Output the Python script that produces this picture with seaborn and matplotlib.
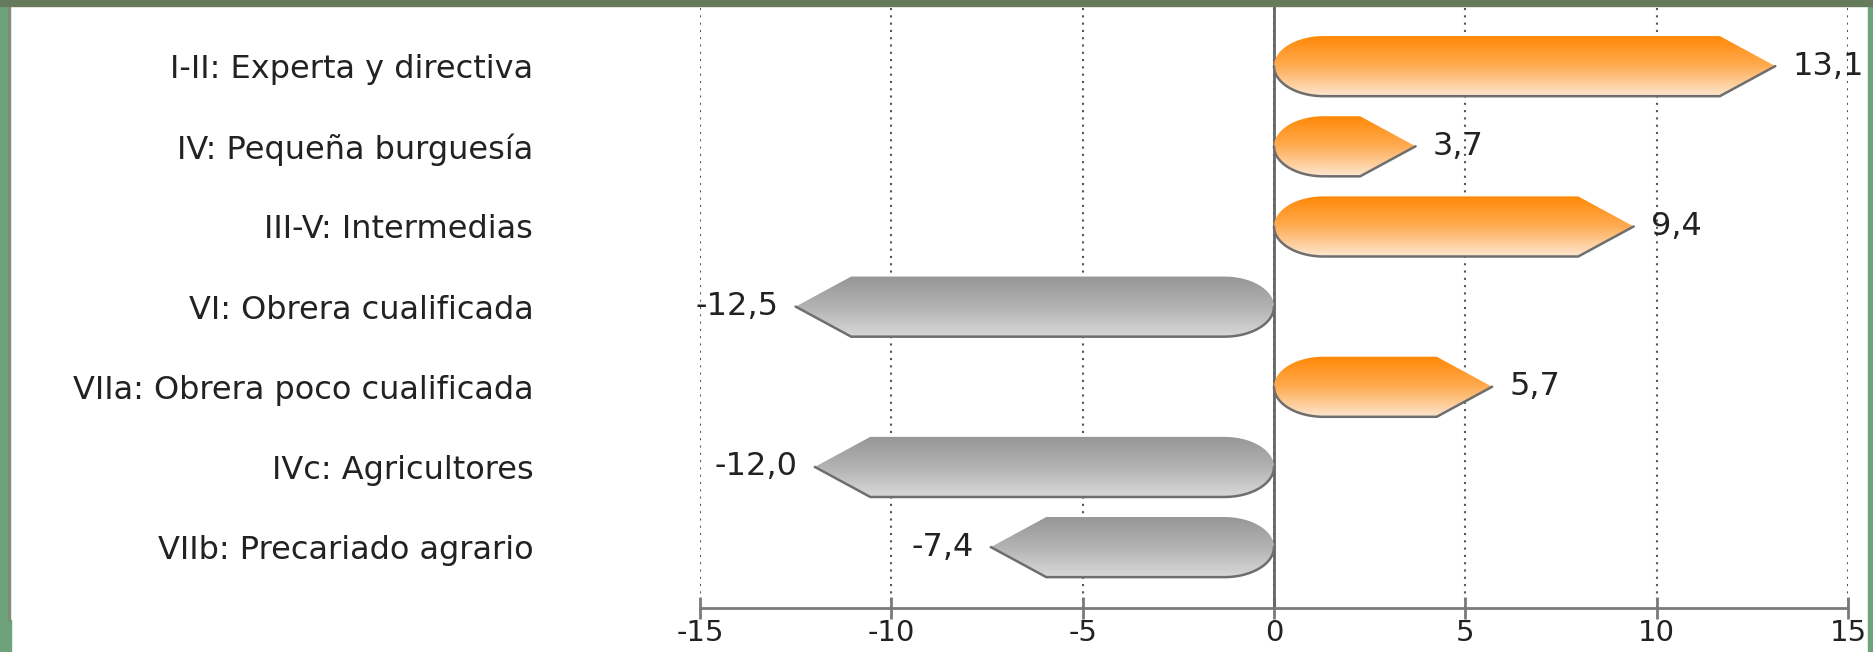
import numpy as np
import pandas as pd
import seaborn as sns
import matplotlib.pyplot as plt
from matplotlib.patches import Polygon, Rectangle
from matplotlib.colors import LinearSegmentedColormap

# === datos ===
categorias = [
    "I-II: Experta y directiva",
    "IV: Pequeña burguesía",
    "III-V: Intermedias",
    "VI: Obrera cualificada",
    "VIIa: Obrera poco cualificada",
    "IVc: Agricultores",
    "VIIb: Precariado agrario",
]
valores = [13.1, 3.7, 9.4, -12.5, 5.7, -12.0, -7.4]
etiquetas = [f"{v:.1f}".replace(".", ",") for v in valores]
ticks_x = [-15, -10, -5, 0, 5, 10, 15]

df = pd.DataFrame({"clase": categorias, "valor": valores})

# === estilo ===
sns.set_theme(style="white")
plt.rcParams["font.family"] = ["DejaVu Sans"]
TXT = "#222222"
FS = 23

W, H = 1873, 652
fig = plt.figure(figsize=(W / 100, H / 100), dpi=100)
fig.patch.set_facecolor("white")
ax = fig.add_axes([700 / W, 44 / H, 1148 / W, 602 / H])

sns.barplot(data=df, x="valor", y="clase", orient="h", width=0.75,
            color="white", errorbar=None, ax=ax)

naranja = LinearSegmentedColormap.from_list("nar", ["#ff8805", "#ffab50", "#fde6d0"])
gris = LinearSegmentedColormap.from_list("gri", ["#969696", "#b2b2b2", "#d8d8d8"])
grad = np.linspace(0, 1, 256).reshape(-1, 1)

PUNTA = 1.45   # largo de la punta (unidades x)
RX = 1.3       # radio horizontal del extremo redondeado

barras = list(ax.patches)
for bar, v, txt in zip(barras, valores, etiquetas):
    bar.set_visible(False)
    h = bar.get_height() / 2
    yc = bar.get_y() + h
    s = 1 if v >= 0 else -1
    t = np.linspace(np.pi / 2, 3 * np.pi / 2, 60)
    arco_x = s * (RX + RX * np.cos(t))
    arco_y = yc + h * np.sin(t)
    xs = list(arco_x) + [v - s * PUNTA, v, v - s * PUNTA]
    ys = list(arco_y) + [yc - h, yc, yc + h]
    forma = Polygon(np.column_stack([xs, ys]), closed=True,
                    facecolor="none", edgecolor="none", zorder=2)
    ax.add_patch(forma)
    img = ax.imshow(grad, extent=[min(0, v), max(0, v), yc + h, yc - h],
                    aspect="auto", cmap=naranja if v >= 0 else gris,
                    interpolation="bilinear", zorder=2)
    img.set_clip_path(forma)
    # borde inferior (sombra)
    t2 = np.linspace(np.pi, np.pi / 2, 30)
    bx = list(s * (RX + RX * np.cos(t2))) + [v - s * PUNTA, v]
    by = list(yc + h * np.sin(t2)) + [yc + h, yc]
    ax.plot(bx, by, color="#6e6e6e", lw=1.8, zorder=3, solid_capstyle="round")
    ax.text(v + s * 0.45, yc, txt, ha="left" if v >= 0 else "right",
            va="center", fontsize=FS, color=TXT, clip_on=False, zorder=4)

# === ejes ===
ax.set_xlim(-15, 15)
ax.set_ylim(6.76, -0.75)
ax.set_xticks(ticks_x)
ax.set_xticklabels([str(t) for t in ticks_x])
ax.set_xlabel("")
ax.set_ylabel("")
ax.set_axisbelow(True)
ax.grid(axis="x", linestyle=(0, (1, 2.5)), color="#555555", linewidth=1.5)
ax.grid(axis="y", visible=False)
ax.axvline(0, color="#666666", lw=2, zorder=1)

sns.despine(ax=ax, left=True, top=True, right=True)
ax.spines["bottom"].set_color("#7a7a7a")
ax.spines["bottom"].set_linewidth(2)
ax.tick_params(axis="x", bottom=True, direction="inout", length=16, width=2,
               color="#7a7a7a", pad=0, labelsize=21, labelcolor=TXT)
ax.tick_params(axis="y", left=False, length=0, pad=120, labelsize=FS,
               labelcolor=TXT)

# === marco verde ===
fig.add_artist(Rectangle((0, 0), 8 / W, 1, transform=fig.transFigure,
                         color="#6da27a", zorder=10))
fig.add_artist(Rectangle((8 / W, 0), 3 / W, 32 / H, transform=fig.transFigure,
                         color="#6da27a", zorder=10))
fig.add_artist(Rectangle((8 / W, 32 / H), 2 / W, 1 - 32 / H,
                         transform=fig.transFigure, color="#7f8c7a", zorder=10))
fig.add_artist(Rectangle((1 - 5 / W, 0), 5 / W, 1, transform=fig.transFigure,
                         color="#6da27a", zorder=10))
fig.add_artist(Rectangle((0, 1 - 6 / H), 1, 6 / H, transform=fig.transFigure,
                         color="#667a5c", zorder=11))

fig.savefig("out.png", dpi=100)
